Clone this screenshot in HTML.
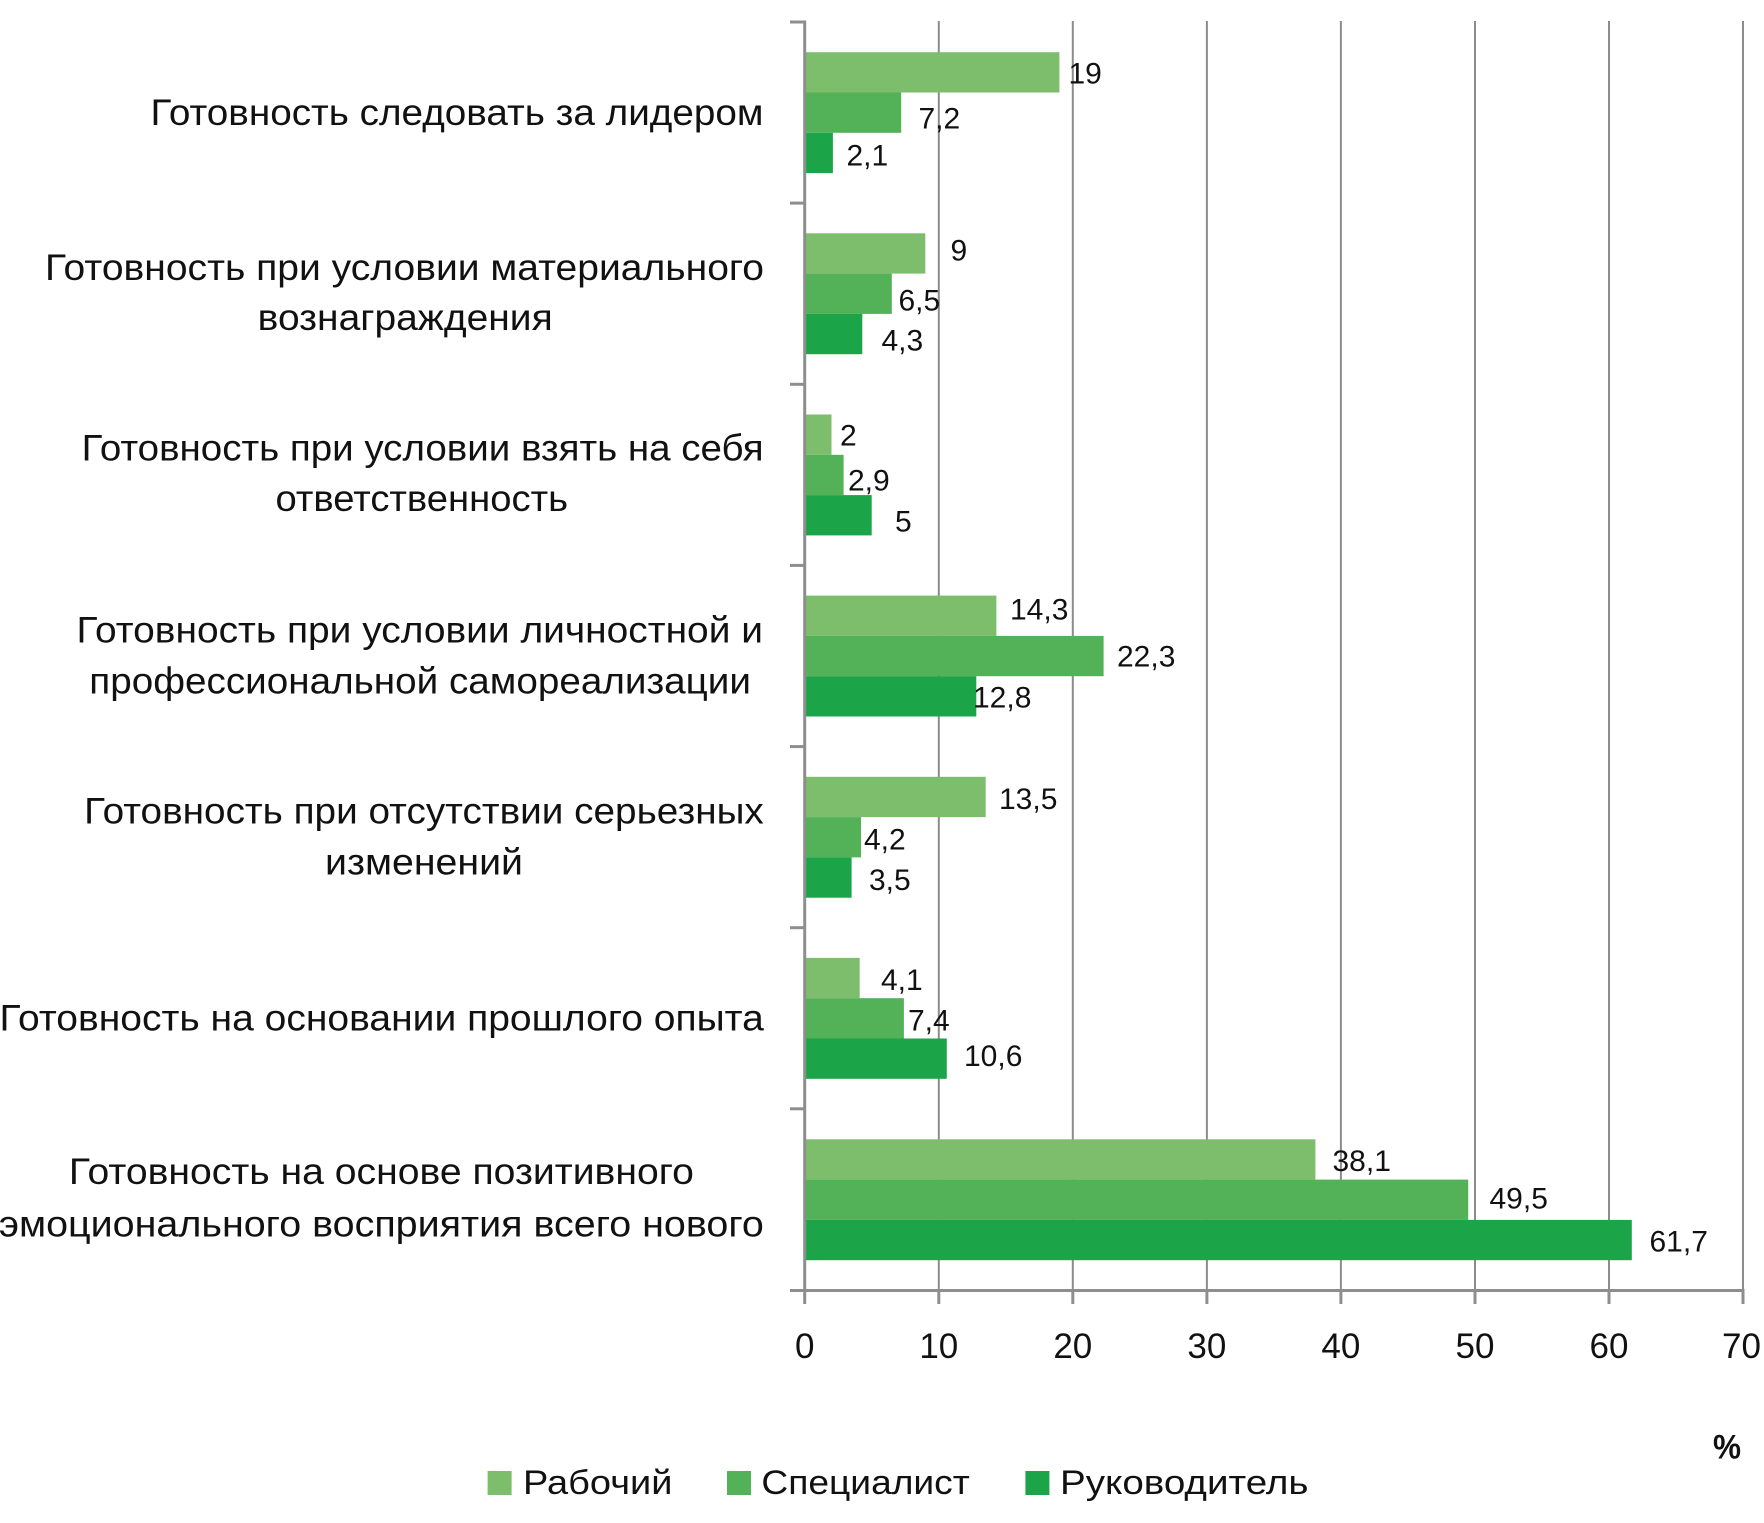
<!DOCTYPE html>
<html>
<head>
<meta charset="utf-8">
<style>
html,body{margin:0;padding:0;background:#fff;}
svg{display:block;}
text{font-family:"Liberation Sans","DejaVu Sans",sans-serif;fill:#111;}
</style>
</head>
<body>
<svg width="1764" height="1523" viewBox="0 0 1764 1523" xmlns="http://www.w3.org/2000/svg">
<rect width="1764" height="1523" fill="#fff"/>

<!-- gridlines -->
<g stroke="#8c8c8c" stroke-width="2">
<line x1="938.8" y1="21" x2="938.8" y2="1290"/>
<line x1="1072.8" y1="21" x2="1072.8" y2="1290"/>
<line x1="1206.9" y1="21" x2="1206.9" y2="1290"/>
<line x1="1340.9" y1="21" x2="1340.9" y2="1290"/>
<line x1="1475.0" y1="21" x2="1475.0" y2="1290"/>
<line x1="1609.0" y1="21" x2="1609.0" y2="1290"/>
<line x1="1743.0" y1="21" x2="1743.0" y2="1290"/>
</g>

<!-- bars -->
<g>
<!-- cat1 T=22 -->
<rect x="804.7" y="52.2" width="254.7" height="40.3" fill="#7dbe6c"/>
<rect x="804.7" y="92.5" width="96.5" height="40.3" fill="#53b157"/>
<rect x="804.7" y="132.8" width="28.2" height="40.3" fill="#1ba548"/>
<!-- cat2 T=203.14 -->
<rect x="804.7" y="233.3" width="120.6" height="40.3" fill="#7dbe6c"/>
<rect x="804.7" y="273.6" width="87.1" height="40.3" fill="#53b157"/>
<rect x="804.7" y="313.9" width="57.6" height="40.3" fill="#1ba548"/>
<!-- cat3 T=384.28 -->
<rect x="804.7" y="414.5" width="26.8" height="40.3" fill="#7dbe6c"/>
<rect x="804.7" y="454.8" width="38.9" height="40.3" fill="#53b157"/>
<rect x="804.7" y="495.1" width="67.0" height="40.3" fill="#1ba548"/>
<!-- cat4 T=565.42 -->
<rect x="804.7" y="595.6" width="191.7" height="40.3" fill="#7dbe6c"/>
<rect x="804.7" y="635.9" width="298.9" height="40.3" fill="#53b157"/>
<rect x="804.7" y="676.2" width="171.6" height="40.3" fill="#1ba548"/>
<!-- cat5 T=746.56 -->
<rect x="804.7" y="776.8" width="181.0" height="40.3" fill="#7dbe6c"/>
<rect x="804.7" y="817.1" width="56.3" height="40.3" fill="#53b157"/>
<rect x="804.7" y="857.4" width="46.9" height="40.3" fill="#1ba548"/>
<!-- cat6 T=927.7 -->
<rect x="804.7" y="957.9" width="55.0" height="40.3" fill="#7dbe6c"/>
<rect x="804.7" y="998.2" width="99.2" height="40.3" fill="#53b157"/>
<rect x="804.7" y="1038.5" width="142.1" height="40.3" fill="#1ba548"/>
<!-- cat7 T=1108.84 -->
<rect x="804.7" y="1139.3" width="510.7" height="40.3" fill="#7dbe6c"/>
<rect x="804.7" y="1179.6" width="663.5" height="40.3" fill="#53b157"/>
<rect x="804.7" y="1219.9" width="827.1" height="40.3" fill="#1ba548"/>
</g>

<!-- axes -->
<g stroke="#8e8e8e" stroke-width="3">
<line x1="804.7" y1="20.5" x2="804.7" y2="1291.5"/>
<line x1="790" y1="1290.5" x2="1744.5" y2="1290.5"/>
<!-- left ticks -->
<line x1="790" y1="22" x2="804.7" y2="22"/>
<line x1="790" y1="203.1" x2="804.7" y2="203.1"/>
<line x1="790" y1="384.3" x2="804.7" y2="384.3"/>
<line x1="790" y1="565.4" x2="804.7" y2="565.4"/>
<line x1="790" y1="746.6" x2="804.7" y2="746.6"/>
<line x1="790" y1="927.7" x2="804.7" y2="927.7"/>
<line x1="790" y1="1108.8" x2="804.7" y2="1108.8"/>
<!-- bottom ticks -->
<line x1="804.7" y1="1290" x2="804.7" y2="1304"/>
<line x1="938.8" y1="1290" x2="938.8" y2="1304"/>
<line x1="1072.8" y1="1290" x2="1072.8" y2="1304"/>
<line x1="1206.9" y1="1290" x2="1206.9" y2="1304"/>
<line x1="1340.9" y1="1290" x2="1340.9" y2="1304"/>
<line x1="1475.0" y1="1290" x2="1475.0" y2="1304"/>
<line x1="1609.0" y1="1290" x2="1609.0" y2="1304"/>
<line x1="1743.0" y1="1290" x2="1743.0" y2="1304"/>
</g>

<!-- x tick labels -->
<g font-size="35" text-anchor="middle">
<text x="804.7" y="1358">0</text>
<text x="938.8" y="1358">10</text>
<text x="1072.8" y="1358">20</text>
<text x="1206.9" y="1358">30</text>
<text x="1340.9" y="1358">40</text>
<text x="1475.0" y="1358">50</text>
<text x="1609.0" y="1358">60</text>
<text x="1741.5" y="1358">70</text>
</g>

<!-- data labels -->
<g font-size="30">
<text x="1068.5" y="83.5">19</text>
<text x="918.5" y="128.5">7,2</text>
<text x="846.5" y="165.5">2,1</text>
<text x="950.5" y="260.5">9</text>
<text x="898.5" y="310.5">6,5</text>
<text x="881.5" y="350.5">4,3</text>
<text x="840" y="445.5">2</text>
<text x="848" y="490.5">2,9</text>
<text x="895" y="531.5">5</text>
<text x="1010" y="619.5">14,3</text>
<text x="1117" y="666.5">22,3</text>
<text x="973" y="707.5">12,8</text>
<text x="999" y="809">13,5</text>
<text x="864" y="849.5">4,2</text>
<text x="869" y="890">3,5</text>
<text x="881" y="990">4,1</text>
<text x="908" y="1030.5">7,4</text>
<text x="964" y="1066">10,6</text>
<text x="1332.5" y="1171">38,1</text>
<text x="1489.5" y="1208.5">49,5</text>
<text x="1649.5" y="1251.5">61,7</text>
</g>

<!-- category labels -->
<g font-size="37">
<text x="150.5" y="125" textLength="613" lengthAdjust="spacingAndGlyphs">Готовность следовать за лидером</text>
<text x="45" y="280" textLength="719" lengthAdjust="spacingAndGlyphs">Готовность при условии материального</text>
<text x="257.7" y="330" textLength="295" lengthAdjust="spacingAndGlyphs">вознаграждения</text>
<text x="81.6" y="460.5" textLength="682" lengthAdjust="spacingAndGlyphs">Готовность при условии взять на себя</text>
<text x="275.5" y="511" textLength="292.5" lengthAdjust="spacingAndGlyphs">ответственность</text>
<text x="76.5" y="642.5" textLength="686.5" lengthAdjust="spacingAndGlyphs">Готовность при условии личностной и</text>
<text x="89.3" y="693.3" textLength="661.7" lengthAdjust="spacingAndGlyphs">профессиональной самореализации</text>
<text x="84.2" y="823.5" textLength="679.6" lengthAdjust="spacingAndGlyphs">Готовность при отсутствии серьезных</text>
<text x="325" y="874.5" textLength="198" lengthAdjust="spacingAndGlyphs">изменений</text>
<text x="-0.5" y="1030.5" textLength="764.3" lengthAdjust="spacingAndGlyphs">Готовность на основании прошлого опыта</text>
<text x="68.9" y="1184" textLength="625" lengthAdjust="spacingAndGlyphs">Готовность на основе позитивного</text>
<text x="-1.2" y="1236.7" textLength="765" lengthAdjust="spacingAndGlyphs">эмоционального восприятия всего нового</text>
</g>

<!-- percent -->
<text x="1713" y="1458.3" font-size="34" font-weight="bold" textLength="28" lengthAdjust="spacingAndGlyphs">%</text>

<!-- legend -->
<rect x="487.6" y="1471" width="24" height="24" fill="#7dbe6c"/>
<rect x="727" y="1471" width="24" height="24" fill="#53b157"/>
<rect x="1025.4" y="1471" width="24" height="24" fill="#1ba548"/>
<g font-size="34">
<text x="523" y="1494" textLength="149.4" lengthAdjust="spacingAndGlyphs">Рабочий</text>
<text x="761.4" y="1494" textLength="208.4" lengthAdjust="spacingAndGlyphs">Специалист</text>
<text x="1060" y="1494" textLength="248.5" lengthAdjust="spacingAndGlyphs">Руководитель</text>
</g>
</svg>
</body>
</html>
